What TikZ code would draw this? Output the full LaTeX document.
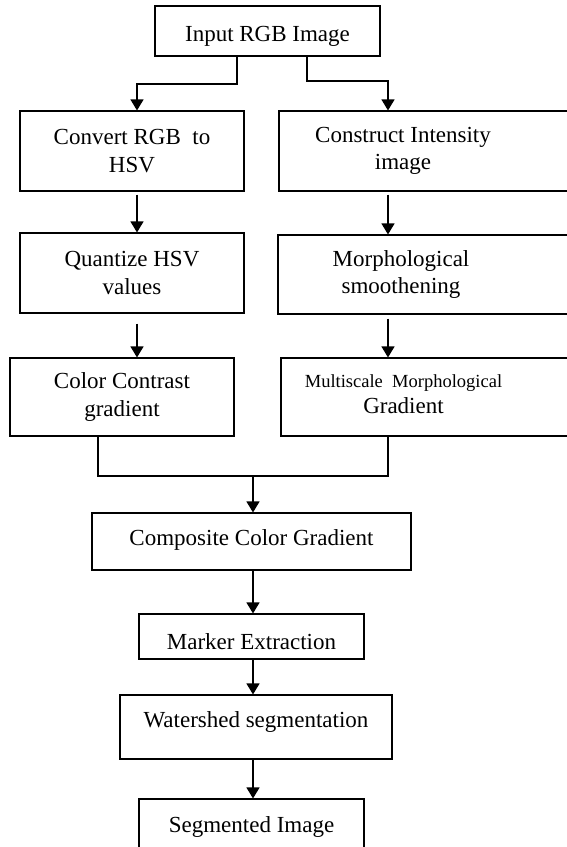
\documentclass[tikz,border=0pt]{standalone}
\usepackage{fontspec}
\setmainfont{Liberation Serif}
\usetikzlibrary{arrows.meta}

\begin{document}
\begin{tikzpicture}[x=1pt, y=-1pt,
line width=1.1pt,
font=\fontsize{23}{27.5}\selectfont,
block/.style={rectangle, draw, align=center, inner sep=0pt},
arr/.style={-{Triangle[width=13pt,length=11pt]}}
]
    \useasboundingbox (0,0) rectangle (566,847);
    \node[block, minimum width=225pt, minimum height=50pt, text height=20pt, text depth=0pt] (IN) at (267.5,31) {Input RGB Image};
    \node[block, minimum width=224pt, minimum height=80pt] (CV) at (132,151) {Convert RGB~ to\\HSV};
    \node[block, minimum width=301pt, minimum height=80pt,
      label={[align=center, xshift=-26.5pt]center:Construct Intensity\\image}] (CI) at (429.5,151) {};
    \node[block, minimum width=224pt, minimum height=80pt] (QZ) at (132,273) {Quantize HSV\\values};
    \node[block, minimum width=302pt, minimum height=79pt,
      label={[align=center, xshift=-28pt]center:Morphological\\smoothening}] (MS) at (429,274.5) {};
    \node[block, minimum width=224pt, minimum height=78pt] (CC) at (122,397) {Color Contrast\\gradient};
    \node[block, minimum width=299pt, minimum height=78pt,
      label={[align=center, xshift=-27pt, yshift=3pt]center:{\fontsize{18.5}{22}\selectfont Multiscale~ Morphological}\\[-1.5pt]Gradient}] (MG) at (430.5,397) {};
    \node[block, minimum width=319pt, minimum height=57pt, text height=12pt, text depth=5pt] (CG) at (251.5,541.5) {Composite Color Gradient};
    \node[block, minimum width=225pt, minimum height=45pt, text height=25pt, text depth=0pt] (ME) at (251.5,636.5) {Marker Extraction};
    \node[block, minimum width=272pt, minimum height=64pt, text height=16pt, text depth=16pt] (WS) at (256,727) {Watershed segmentation};
    \node[block, minimum width=225pt, minimum height=72pt, text height=16pt, text depth=22pt] (SI) at (251.5,835) {Segmented Image};

    \coordinate (lx) at (137,0);
    \coordinate (rx) at (388,0);
    \coordinate (mx) at (253,0);
    \coordinate (cl) at (98,0);
    \coordinate (sl) at (237,84);
    \coordinate (sr) at (307,81);
    \coordinate (jn) at (253,476);

    \draw[arr] (IN.south -| sl) -- (sl) -| (CV.north -| lx);
    \draw[arr] (IN.south -| sr) -- (sr) -| (CI.north -| rx);
    \draw[arr, shorten <=3pt] (CV.south -| lx) -- (QZ.north -| lx);
    \draw[arr, shorten <=3pt] (CI.south -| rx) -- (MS.north -| rx);
    \draw[arr, shorten <=10pt] (QZ.south -| lx) -- (CC.north -| lx);
    \draw[arr, shorten <=4pt] (MS.south -| rx) -- (MG.north -| rx);
    \draw (CC.south -| cl) |- (jn) -| (MG.south -| rx);
    \draw[arr] (jn) -- (CG.north -| jn);
    \draw[arr] (CG.south -| mx) -- (ME.north -| mx);
    \draw[arr] (ME.south -| mx) -- (WS.north -| mx);
    \draw[arr] (WS.south -| mx) -- (SI.north -| mx);
\end{tikzpicture}
\end{document}
